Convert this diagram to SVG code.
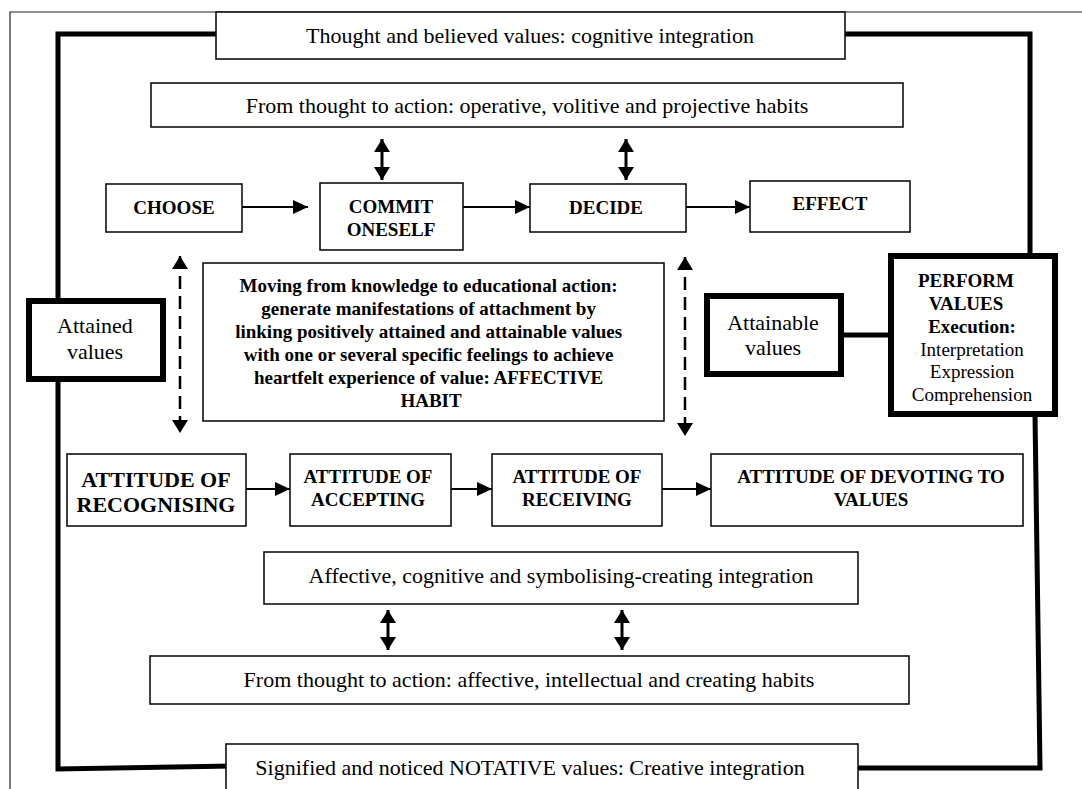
<svg xmlns="http://www.w3.org/2000/svg" width="1082" height="789" viewBox="0 0 1082 789">
  <style>
    .box { fill: #ffffff; stroke: #111; stroke-width: 1.6; }
    .heavy { fill: #ffffff; stroke: #000; stroke-width: 6; }
    .t { font-family: "Liberation Serif", "Times New Roman", Times, serif; fill: #000; text-anchor: middle; }
    .b { font-weight: bold; }
    .flow { stroke: #000; stroke-width: 2; fill: none; }
    .pair { stroke: #000; stroke-width: 3; fill: none; }
    .dash { stroke: #000; stroke-width: 2.5; fill: none; stroke-dasharray: 13 7; }
    .loop { stroke: #000; stroke-width: 5; fill: none; stroke-linejoin: miter; }
  </style>
  <defs>
    <marker id="head" markerUnits="userSpaceOnUse" markerWidth="16" markerHeight="14" refX="15" refY="7" orient="auto">
      <path d="M0,0 L15,7 L0,14 Z" fill="#000"/>
    </marker>
    <marker id="headBig" markerUnits="userSpaceOnUse" markerWidth="14" markerHeight="16" refX="13" refY="8" orient="auto-start-reverse">
      <path d="M0,0 L13,8 L0,16 Z" fill="#000"/>
    </marker>
  </defs>

  <rect width="1082" height="789" fill="#ffffff"/>
  <!-- page frame -->
  <path d="M10,789 V12 H1082" fill="none" stroke="#222" stroke-width="1.2"/>

  <g id="connectors">
    <!-- heavy outer loop -->
    <path class="loop" d="M216,34 H58 V769 L232,766"/>
    <path class="loop" d="M845,34 H1030 V258"/>
    <path class="loop" d="M1035,414 L1040,768 H858"/>
    <line class="loop" x1="843" y1="335" x2="890" y2="335"/>
    <!-- habit box to action row -->
    <line class="pair" x1="382" y1="139" x2="382" y2="180" marker-start="url(#headBig)" marker-end="url(#headBig)"/>
    <line class="pair" x1="626" y1="139" x2="626" y2="180" marker-start="url(#headBig)" marker-end="url(#headBig)"/>
    <!-- action row -->
    <line class="flow" x1="241" y1="207" x2="308" y2="207" marker-end="url(#head)"/>
    <line class="flow" x1="463" y1="207" x2="530" y2="207" marker-end="url(#head)"/>
    <line class="flow" x1="686" y1="207" x2="750" y2="207" marker-end="url(#head)"/>
    <!-- dashed links between rows -->
    <line class="dash" x1="180" y1="256" x2="180" y2="433" marker-start="url(#headBig)" marker-end="url(#headBig)"/>
    <line class="dash" x1="685" y1="257" x2="685" y2="436" marker-start="url(#headBig)" marker-end="url(#headBig)"/>
    <!-- attitude row -->
    <line class="flow" x1="246" y1="489" x2="290" y2="489" marker-end="url(#head)"/>
    <line class="flow" x1="448" y1="489" x2="492" y2="489" marker-end="url(#head)"/>
    <line class="flow" x1="660" y1="489" x2="711" y2="489" marker-end="url(#head)"/>
    <!-- lower integration boxes -->
    <line class="pair" x1="388" y1="610" x2="388" y2="650" marker-start="url(#headBig)" marker-end="url(#headBig)"/>
    <line class="pair" x1="622" y1="610" x2="622" y2="650" marker-start="url(#headBig)" marker-end="url(#headBig)"/>
  </g>

  <g id="cognitive">
    <rect class="box" x="216" y="12" width="629" height="47"/>
    <text class="t" x="530" y="43" font-size="22">Thought and believed values: cognitive integration</text>
  </g>

  <g id="habits-operative">
    <rect class="box" x="151" y="83" width="752" height="44"/>
    <text class="t" x="527" y="113" font-size="22">From thought to action: operative, volitive and projective habits</text>
  </g>

  <g id="choose">
    <rect class="box" x="106" y="184" width="136" height="48"/>
    <text class="t b" x="174" y="214" font-size="19">CHOOSE</text>
  </g>

  <g id="commit">
    <rect class="box" x="320" y="183" width="143" height="67"/>
    <text class="t b" x="391" y="213" font-size="19">COMMIT</text>
    <text class="t b" x="391" y="236" font-size="19">ONESELF</text>
  </g>

  <g id="decide">
    <rect class="box" x="530" y="184" width="156" height="48"/>
    <text class="t b" x="606" y="214" font-size="19">DECIDE</text>
  </g>

  <g id="effect">
    <rect class="box" x="750" y="181" width="160" height="51"/>
    <text class="t b" x="830" y="210" font-size="19">EFFECT</text>
  </g>

  <g id="affective-habit">
    <rect class="box" x="203" y="263" width="461" height="158"/>
    <text class="t b" font-size="19">
      <tspan x="431" y="292">Moving from knowledge to educational action:</tspan>
      <tspan x="431" y="315">generate manifestations of attachment by</tspan>
      <tspan x="431" y="338">linking positively attained and attainable values</tspan>
      <tspan x="431" y="361">with one or several specific feelings to achieve</tspan>
      <tspan x="431" y="384">heartfelt experience of value: AFFECTIVE</tspan>
      <tspan x="431" y="407">HABIT</tspan>
    </text>
  </g>

  <g id="attained">
    <rect class="heavy" x="29" y="301" width="134" height="78"/>
    <text class="t" x="95" y="333" font-size="22">Attained</text>
    <text class="t" x="95" y="359" font-size="22">values</text>
  </g>

  <g id="attainable">
    <rect class="heavy" x="707" y="296" width="134" height="78"/>
    <text class="t" x="773" y="330" font-size="22">Attainable</text>
    <text class="t" x="773" y="355" font-size="22">values</text>
  </g>

  <g id="perform">
    <rect class="heavy" x="891" y="256" width="164" height="158"/>
    <text class="t b" x="966" y="287" font-size="19">PERFORM</text>
    <text class="t b" x="966" y="310" font-size="19">VALUES</text>
    <text class="t b" x="972" y="333" font-size="19">Execution:</text>
    <text class="t" x="972" y="356" font-size="19">Interpretation</text>
    <text class="t" x="972" y="378" font-size="19">Expression</text>
    <text class="t" x="972" y="401" font-size="19">Comprehension</text>
  </g>

  <g id="recognising">
    <rect class="box" x="67" y="454" width="179" height="72"/>
    <text class="t b" x="156" y="487" font-size="22">ATTITUDE OF</text>
    <text class="t b" x="156" y="512" font-size="22">RECOGNISING</text>
  </g>

  <g id="accepting">
    <rect class="box" x="290" y="454" width="161" height="72"/>
    <text class="t b" x="368" y="483" font-size="19">ATTITUDE OF</text>
    <text class="t b" x="368" y="506" font-size="19">ACCEPTING</text>
  </g>

  <g id="receiving">
    <rect class="box" x="492" y="454" width="170" height="72"/>
    <text class="t b" x="577" y="483" font-size="19">ATTITUDE OF</text>
    <text class="t b" x="577" y="506" font-size="19">RECEIVING</text>
  </g>

  <g id="devoting">
    <rect class="box" x="711" y="454" width="312" height="72"/>
    <text class="t b" x="871" y="483" font-size="19">ATTITUDE OF DEVOTING TO</text>
    <text class="t b" x="871" y="506" font-size="19">VALUES</text>
  </g>

  <g id="symbolising">
    <rect class="box" x="264" y="552" width="594" height="52"/>
    <text class="t" x="561" y="583" font-size="22">Affective, cognitive and symbolising-creating integration</text>
  </g>

  <g id="habits-affective">
    <rect class="box" x="150" y="656" width="759" height="48"/>
    <text class="t" x="529" y="687" font-size="22">From thought to action: affective, intellectual and creating habits</text>
  </g>

  <g id="notative">
    <rect class="box" x="226" y="744" width="632" height="60"/>
    <text class="t" x="530" y="775" font-size="22">Signified and noticed NOTATIVE values: Creative integration</text>
  </g>
</svg>
